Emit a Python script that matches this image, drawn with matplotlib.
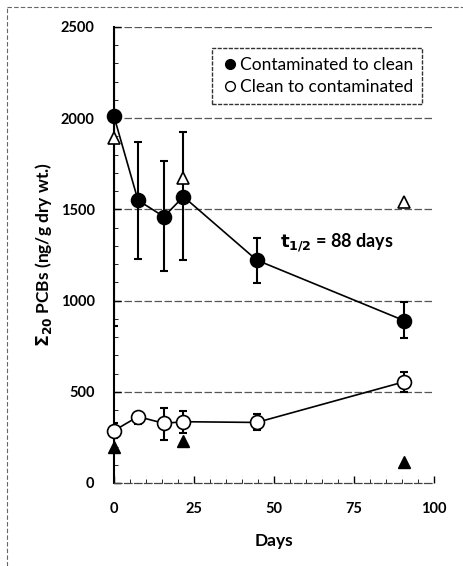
import numpy as np
import matplotlib
matplotlib.use('Agg')
import matplotlib.pyplot as plt
from matplotlib.lines import Line2D
from matplotlib.ticker import MultipleLocator

plt.rcParams['font.family'] = ['Lato', 'DejaVu Sans']

# contaminated to clean (filled circles)
days_c2c = [0, 7.5, 15.6, 21.7, 44.6, 90.7]
pcb_c2c = [2010, 1550, 1460, 1570, 1222, 890]
err_lo_c2c = [1150, 320, 300, 350, 125, 97]
err_hi_c2c = [1150, 320, 305, 355, 123, 104]

# clean to contaminated (open circles)
days_cl2c = [0, 7.5, 15.6, 21.7, 44.6, 90.7]
pcb_cl2c = [287, 364, 327, 336, 332, 555]
err_lo_cl2c = [40, 40, 90, 64, 42, 55]
err_hi_cl2c = [40, 27, 86, 60, 46, 52]

# triangles
tri_days = [0, 21.7, 90.7]
tri_open = [1889, 1670, 1542]
tri_filled = [199, 230, 117]

fig = plt.figure(figsize=(4.64, 5.66), dpi=100)
ax = fig.add_axes([114/464, 1-483/566, 320/464, 456/566])

for y in [500, 1000, 1500, 2000, 2500]:
    ax.axhline(y, color='#555555', lw=0.9, ls=(0, (6, 2)), zorder=0)

# error bars + connecting lines (clipped), markers drawn unclipped
for d, v, lo, hi, fc in [(days_c2c, pcb_c2c, err_lo_c2c, err_hi_c2c, 'black'),
                         (days_cl2c, pcb_cl2c, err_lo_cl2c, err_hi_cl2c, 'white')]:
    ax.errorbar(d, v, yerr=[lo, hi], fmt='-', color='black', lw=1.2,
                elinewidth=1.5, capsize=3, capthick=1.5, zorder=3)
    ax.plot(d, v, 'o', mfc=fc, mec='black', ms=10, mew=1.2, ls='none',
            zorder=5, clip_on=False)

ax.plot(tri_days, tri_open, '^', mfc='white', mec='black', ms=8, mew=1.2, ls='none',
        zorder=4, clip_on=False)
ax.plot(tri_days, tri_filled, '^', mfc='black', mec='black', ms=8, ls='none',
        zorder=4, clip_on=False)

ax.text(52, 1320, r'$\mathbf{t_{1/2}}$ = 88 days', fontsize=13, fontweight='bold',
        va='center', ha='left')

ax.set_xlim(0, 100)
ax.set_ylim(0, 2500)
ax.xaxis.set_major_locator(MultipleLocator(25))
ax.xaxis.set_minor_locator(MultipleLocator(5))
ax.yaxis.set_major_locator(MultipleLocator(500))
ax.yaxis.set_minor_locator(MultipleLocator(100))
ax.tick_params(which='both', direction='in', labelsize=10.5)
ax.tick_params(which='major', length=5, width=1)
ax.tick_params(which='minor', length=3)
for lab in ax.get_xticklabels() + ax.get_yticklabels():
    lab.set_fontweight('bold')
ax.tick_params(axis='x', pad=14)
ax.tick_params(axis='y', pad=14)

for s in ['top', 'right']:
    ax.spines[s].set_visible(False)
ax.spines['left'].set_linewidth(1.5)
ax.spines['bottom'].set_linewidth(0.9)
ax.spines['bottom'].set_linestyle((0, (6, 2)))
ax.spines['bottom'].set_color('#444444')

ax.set_xlabel('Days', fontsize=12.5, fontweight='bold', labelpad=12)
ax.set_ylabel(r'$\mathbf{\Sigma_{20}}$ PCBs (ng/g dry wt.)', fontsize=12.5,
              fontweight='bold', labelpad=5)

handles = [Line2D([], [], marker='o', color='black', mfc='black', ls='none', ms=7),
           Line2D([], [], marker='o', color='black', mfc='white', ls='none', ms=7)]
leg = ax.legend(handles, ['Contaminated to clean', 'Clean to contaminated'],
                loc='upper right', bbox_to_anchor=(0.99, 0.972), fontsize=12.5,
                frameon=True, fancybox=False, edgecolor='black', handletextpad=0.1,
                borderpad=0.5, labelspacing=0.35, handlelength=1.0)
leg.get_frame().set_linewidth(1.0)
leg.get_frame().set_linestyle((0, (3, 1)))

# scan frame
fig.add_artist(Line2D([7/464, 7/464], [0, 1-7/566], transform=fig.transFigure,
                      color='#666666', lw=0.8, ls=(0, (4, 2))))
fig.add_artist(Line2D([7/464, 1], [1-7/566, 1-7/566], transform=fig.transFigure,
                      color='#666666', lw=0.8, ls=(0, (4, 2))))

fig.savefig('out.png', dpi=100)
